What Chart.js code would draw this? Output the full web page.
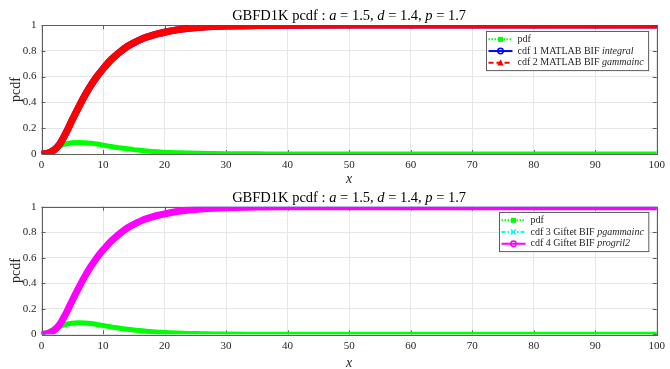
<!DOCTYPE html>
<html>
<head>
<meta charset="utf-8">
<script src="https://cdn.jsdelivr.net/npm/chart.js@4.4.1/dist/chart.umd.min.js"></script>
<style>
  body { margin: 0; background: #fff; }
  .plot { position: absolute; left: 0; width: 670px; }
  #top { top: 0; height: 185px; }
  #bottom { top: 185px; height: 184px; }
</style>
</head>
<body>
<div class="plot" id="top"><canvas id="c1" width="670" height="185"></canvas></div>
<div class="plot" id="bottom"><canvas id="c2" width="670" height="184"></canvas></div>
<script>
// values
const xs       = [0, 1, 2, 3, 4, 5, 6, 7, 8, 9, 10, 11, 12, 13, 14, 15, 16, 17, 18, 19, 20, 22, 24, 26, 28, 30, 35, 40, 50, 60, 70, 80, 90, 100];
const pdfVals  = [0, 0.015, 0.038, 0.062, 0.079, 0.087, 0.09, 0.088, 0.084, 0.077, 0.069, 0.061, 0.053, 0.046, 0.04, 0.034, 0.029, 0.024, 0.02, 0.017, 0.014, 0.01, 0.007, 0.005, 0.003, 0.002, 0.001, 0, 0, 0, 0, 0, 0, 0];
const cdfVals  = [0, 0.005, 0.03, 0.08, 0.165, 0.265, 0.36, 0.45, 0.53, 0.6, 0.66, 0.715, 0.76, 0.8, 0.835, 0.862, 0.885, 0.905, 0.92, 0.933, 0.944, 0.962, 0.974, 0.982, 0.988, 0.992, 0.997, 0.999, 1, 1, 1, 1, 1, 1];
const xTicks   = [0, 10, 20, 30, 40, 50, 60, 70, 80, 90, 100];
const yTicks   = [0, 0.2, 0.4, 0.6, 0.8, 1];
const yTickLabels = ["0", "0.2", "0.4", "0.6", "0.8", "1"];

// [text, italic?] and [plain part, italic part]
const titleParts = [["GBFD1K pcdf : ", false], ["a", true], [" = 1.5, ", false], ["d", true], [" = 1.4, ", false], ["p", true], [" = 1.7", false]];
const topNames    = [["pdf", ""], ["cdf 1 MATLAB BIF ", "integral"], ["cdf 2 MATLAB BIF ", "gammainc"]];
const bottomNames = [["pdf", ""], ["cdf 3 Giftet BIF ", "pgammainc"], ["cdf 4 Giftet BIF ", "progril2"]];

const FONT = "'Liberation Serif', 'Times New Roman', serif";
const TEXT = "#262626";

function pts(vals) {
    return xs.map((x, i) => ({ x: x, y: vals[i] }));
}

function drawMarker(ctx, kind, x, y, color) {
    ctx.save();
    ctx.fillStyle = color;
    ctx.strokeStyle = color;
    ctx.lineWidth = 1.5;
    ctx.setLineDash([]);
    ctx.beginPath();
    if (kind === "square") {
        ctx.fillRect(x - 2.5, y - 2.5, 5, 5);
    } else if (kind === "circle") {
        ctx.arc(x, y, 2.7, 0, Math.PI * 2);
        ctx.stroke();
    } else if (kind === "triangle") {
        ctx.moveTo(x, y - 3.5);
        ctx.lineTo(x + 3.2, y + 2.8);
        ctx.lineTo(x - 3.2, y + 2.8);
        ctx.closePath();
        ctx.fill();
    } else if (kind === "cross") {
        ctx.moveTo(x - 2.5, y - 2.5); ctx.lineTo(x + 2.5, y + 2.5);
        ctx.moveTo(x + 2.5, y - 2.5); ctx.lineTo(x - 2.5, y + 2.5);
        ctx.stroke();
    }
    ctx.restore();
}

// axes box, inward ticks, title (MATLAB look)
const matlabAxes = {
    id: "matlabAxes",
    beforeDatasetsDraw(chart) {
        const { ctx, chartArea: a, scales } = chart;
        ctx.save();
        ctx.strokeStyle = "#5e5e5e";
        ctx.lineWidth = 1;
        ctx.strokeRect(Math.round(a.left) + 0.5, Math.round(a.top) + 0.5, Math.round(a.right - a.left), Math.round(a.bottom - a.top));
        ctx.beginPath();
        for (const t of xTicks) {
            const px = Math.round(scales.x.getPixelForValue(t)) + 0.5;
            ctx.moveTo(px, a.bottom); ctx.lineTo(px, a.bottom - 4);
            ctx.moveTo(px, a.top); ctx.lineTo(px, a.top + 4);
        }
        for (const t of yTicks) {
            const py = Math.round(scales.y.getPixelForValue(t)) + 0.5;
            ctx.moveTo(a.left, py); ctx.lineTo(a.left + 4, py);
            ctx.moveTo(a.right, py); ctx.lineTo(a.right - 4, py);
        }
        ctx.stroke();
        ctx.restore();
    },
    afterDraw(chart) {
        const { ctx, chartArea: a } = chart;
        ctx.save();
        ctx.fillStyle = "#000";
        ctx.textBaseline = "alphabetic";
        const fnt = it => (it ? "italic " : "") + "14.5px " + FONT;
        let total = 0;
        for (const [s, it] of titleParts) {
            ctx.font = fnt(it);
            total += ctx.measureText(s).width;
        }
        let x = (a.left + a.right) / 2 - total / 2;
        const y = a.top - 5;
        for (const [s, it] of titleParts) {
            ctx.font = fnt(it);
            ctx.fillText(s, x, y);
            x += ctx.measureText(s).width;
        }
        ctx.restore();
    }
};

// legend box with mixed italic text
const matlabLegend = {
    id: "matlabLegend",
    afterDraw(chart, args, opts) {
        const { ctx, chartArea: a } = chart;
        const names = opts.names;
        const items = opts.items;
        const fs = 10;
        const rowH = 11.7;
        ctx.save();
        let textW = 0;
        for (const [p, it] of names) {
            ctx.font = fs + "px " + FONT;
            let w = ctx.measureText(p).width;
            ctx.font = "italic " + fs + "px " + FONT;
            w += ctx.measureText(it).width;
            textW = Math.max(textW, w);
        }
        const sampleW = 24;
        const boxW = 2 + sampleW + 5 + textW + 5;
        const boxH = names.length * rowH + 4;
        const bx = Math.round(a.right - 8.5 - boxW) + 0.5;
        const by = Math.round(a.top + opts.offsetTop) + 0.5;
        ctx.fillStyle = "#fff";
        ctx.fillRect(bx, by, boxW, boxH);
        ctx.strokeStyle = "#5e5e5e";
        ctx.lineWidth = 1;
        ctx.strokeRect(bx, by, boxW, boxH);
        names.forEach(([p, it], i) => {
            const cy = by + 2 + rowH * i + rowH / 2;
            const item = items[i];
            ctx.strokeStyle = item.color;
            ctx.lineWidth = 2;
            ctx.setLineDash(item.dash);
            ctx.beginPath();
            ctx.moveTo(bx + 2, cy);
            ctx.lineTo(bx + 2 + sampleW, cy);
            ctx.stroke();
            ctx.setLineDash([]);
            drawMarker(ctx, item.marker, bx + 2 + sampleW / 2, cy, item.color);
            ctx.fillStyle = TEXT;
            ctx.textBaseline = "middle";
            let tx = bx + 2 + sampleW + 5;
            ctx.font = fs + "px " + FONT;
            ctx.fillText(p, tx, cy);
            tx += ctx.measureText(p).width;
            ctx.font = "italic " + fs + "px " + FONT;
            ctx.fillText(it, tx, cy);
        });
        ctx.restore();
    }
};

function makeChart(canvasId, datasets, names, items, padTop, xAxisH, legendTop) {
    return new Chart(document.getElementById(canvasId), {
        type: "line",
        data: { datasets: datasets },
        plugins: [matlabAxes, matlabLegend],
        options: {
            responsive: false,
            animation: false,
            events: [],
            layout: { padding: { top: padTop, right: 8.5, left: 0, bottom: 0 } },
            elements: { point: { radius: 0 }, line: { cubicInterpolationMode: "monotone", borderCapStyle: "round", borderJoinStyle: "round" } },
            plugins: {
                legend: { display: false },
                tooltip: { enabled: false },
                matlabLegend: { names: names, items: items, offsetTop: legendTop }
            },
            scales: {
                x: {
                    type: "linear",
                    min: 0, max: 100,
                    afterBuildTicks: s => { s.ticks = xTicks.map(v => ({ value: v })); },
                    afterFit: s => { s.height = xAxisH; },
                    grid: { color: "#e6e6e6", drawTicks: false },
                    border: { display: false },
                    ticks: { padding: 5, color: TEXT, font: { family: FONT, size: 11 }, maxRotation: 0 },
                    title: { display: true, text: "x", color: TEXT, padding: { top: 0, bottom: 0 }, font: { family: FONT, size: 14, style: "italic", lineHeight: 0.8 } }
                },
                y: {
                    min: 0, max: 1,
                    afterBuildTicks: s => { s.ticks = yTicks.map(v => ({ value: v })); },
                    afterFit: s => { s.width = 41.5; },
                    grid: { color: "#e6e6e6", drawTicks: false },
                    border: { display: false },
                    ticks: { padding: 5, color: TEXT, font: { family: FONT, size: 11 }, callback: (v, i) => yTickLabels[i] },
                    title: { display: true, text: "pcdf", color: TEXT, padding: { top: 7.5, bottom: 0 }, font: { family: FONT, size: 14 } }
                }
            }
        }
    });
}

const topDatasets = [
    { label: "pdf", data: pts(pdfVals), borderColor: "#00ff00", borderWidth: 5, order: 2 },
    { label: "cdf 1 MATLAB BIF integral", data: pts(cdfVals), borderColor: "#0000ff", borderWidth: 7, order: 1 },
    { label: "cdf 2 MATLAB BIF gammainc", data: pts(cdfVals), borderColor: "#ff0000", borderWidth: 7, order: 0 }
];
const topItems = [
    { color: "#00ff00", dash: [1.5, 1.5], marker: "square" },
    { color: "#0000ff", dash: [], marker: "circle" },
    { color: "#ff0000", dash: [5, 3], marker: "triangle" }
];

const bottomDatasets = [
    { label: "pdf", data: pts(pdfVals), borderColor: "#00ff00", borderWidth: 5, order: 2 },
    { label: "cdf 3 Giftet BIF pgammainc", data: pts(cdfVals), borderColor: "#00ffff", borderWidth: 6, order: 1 },
    { label: "cdf 4 Giftet BIF progril2", data: pts(cdfVals), borderColor: "#ff00ff", borderWidth: 7, order: 0 }
];
const bottomItems = [
    { color: "#00ff00", dash: [1.5, 1.5], marker: "square" },
    { color: "#00ffff", dash: [4, 2, 1.5, 2], marker: "cross" },
    { color: "#ff00ff", dash: [], marker: "circle" }
];

makeChart("c1", topDatasets, topNames, topItems, 25, 31, 6);
makeChart("c2", bottomDatasets, bottomNames, bottomItems, 21.7, 34.7, 5.5);
</script>
</body>
</html>
